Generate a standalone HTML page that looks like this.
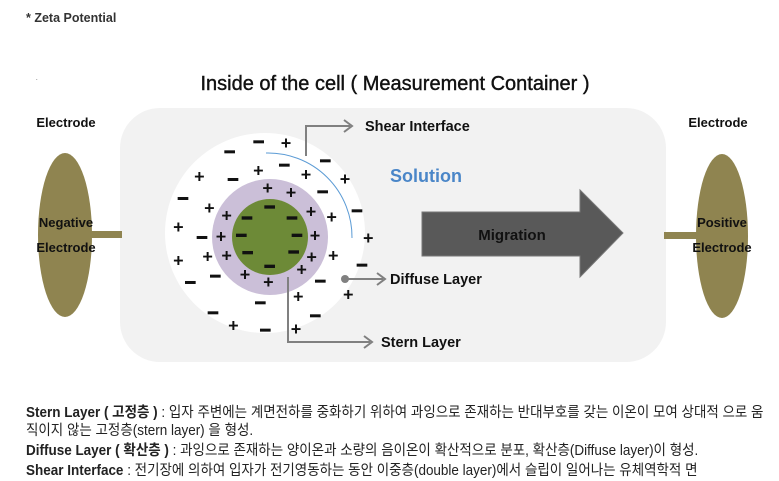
<!DOCTYPE html>
<html><head><meta charset="utf-8"><style>
body{margin:0;background:#fff;width:779px;height:481px;overflow:hidden;position:relative;font-family:"Liberation Sans","Noto Sans CJK KR",sans-serif}
.t{position:absolute;white-space:nowrap}
.k{font-size:14.5px;color:#222;transform:scaleX(0.93);transform-origin:left}
</style></head><body>
<svg width="779" height="481" style="position:absolute;left:0;top:0" font-family="Liberation Sans, sans-serif">
<text x="26" y="22" font-size="12.5" font-weight="bold" fill="#333">* Zeta Potential</text>
<text x="36" y="80" font-size="6" fill="#333">.</text>
<text x="395" y="90" font-size="20" text-anchor="middle" fill="#111" stroke="#111" stroke-width="0.4">Inside of the cell ( Measurement Container )</text>
<rect x="120" y="108" width="546" height="254" rx="40" fill="#f2f2f2"/>
<rect x="90" y="231" width="32" height="7" fill="#8f8450"/>
<ellipse cx="65" cy="235" rx="27" ry="82" fill="#8f8450"/>
<rect x="664" y="232" width="34" height="7" fill="#8f8450"/>
<ellipse cx="722" cy="236" rx="26" ry="82" fill="#8f8450"/>
<g font-size="13" font-weight="bold" fill="#111" text-anchor="middle">
<text x="66" y="127">Electrode</text>
<text x="718" y="127">Electrode</text>
<text x="66" y="227">Negative</text>
<text x="66" y="252">Electrode</text>
<text x="722" y="227">Positive</text>
<text x="722" y="252">Electrode</text>
</g>
<polygon points="422,212 580,212 580,190 623,233 580,277 580,256 422,256" fill="#595959" stroke="#777" stroke-width="1"/>
<text x="512" y="240" font-size="15" font-weight="bold" fill="#111" text-anchor="middle">Migration</text>
<text x="390" y="182" font-size="18" font-weight="bold" fill="#4a86c8">Solution</text>
<circle cx="265" cy="233" r="100" fill="#fff"/>
<circle cx="270" cy="237" r="58" fill="#cbbfd8"/>
<circle cx="270" cy="237" r="38" fill="#6d8a37"/>
<path d="M266,153 A84,84 0 0 1 352,238" fill="none" stroke="#5b9bd5" stroke-width="1"/>
<g transform="translate(160,120) scale(0.3333)" font-size="54" font-weight="bold" fill="#111" text-anchor="middle">
<g fill="#111">
<rect x="280" y="61" width="32" height="9"/><rect x="193" y="91" width="32" height="9"/><rect x="357" y="131" width="32" height="9"/><rect x="480" y="118" width="32" height="9"/><rect x="203" y="174" width="32" height="9"/><rect x="53" y="231" width="32" height="9"/><rect x="575" y="268" width="32" height="9"/><rect x="110" y="348" width="32" height="9"/><rect x="590" y="431" width="32" height="9"/><rect x="75" y="483" width="32" height="9"/><rect x="150" y="464" width="32" height="9"/><rect x="465" y="479" width="32" height="9"/><rect x="285" y="544" width="32" height="9"/><rect x="143" y="574" width="32" height="9"/><rect x="450" y="583" width="32" height="9"/><rect x="300" y="626" width="32" height="9"/><rect x="472" y="211" width="32" height="9"/>
<rect x="313" y="256" width="32" height="10"/><rect x="245" y="289" width="32" height="10"/><rect x="380" y="289" width="32" height="10"/><rect x="228" y="341" width="32" height="10"/><rect x="395" y="341" width="32" height="10"/><rect x="247" y="393" width="32" height="10"/><rect x="385" y="391" width="32" height="10"/><rect x="313" y="434" width="32" height="10"/>
</g>
<g>
<text x="378" y="87">+</text><text x="118" y="187">+</text><text x="295" y="169">+</text><text x="438" y="182">+</text><text x="555" y="195">+</text><text x="323" y="222">+</text><text x="393" y="235">+</text><text x="148" y="282">+</text><text x="200" y="305">+</text><text x="453" y="292">+</text><text x="515" y="309">+</text><text x="55" y="339">+</text><text x="183" y="367">+</text><text x="465" y="365">+</text><text x="625" y="372">+</text><text x="55" y="439">+</text><text x="143" y="427">+</text><text x="200" y="425">+</text><text x="455" y="429">+</text><text x="520" y="425">+</text><text x="425" y="467">+</text><text x="255" y="482">+</text><text x="325" y="504">+</text><text x="415" y="547">+</text><text x="565" y="542">+</text><text x="220" y="634">+</text><text x="408" y="645">+</text>
</g>
</g>
<g stroke="#808080" stroke-width="2" fill="none">
<polyline points="306,156 306,126 350,126"/><polyline points="344,120 352,126 344,132"/>
<line x1="345" y1="279" x2="383" y2="279"/><polyline points="377,273 385,279 377,285"/>
<polyline points="288,277 288,342 370,342"/><polyline points="364,336 372,342 364,348"/>
</g>
<circle cx="345" cy="279" r="4" fill="#808080"/>
<g font-size="14.5" font-weight="bold" fill="#111">
<text x="365" y="131">Shear Interface</text>
<text x="390" y="284">Diffuse Layer</text>
<text x="381" y="347">Stern Layer</text>
</g>
</svg>
<div class="t k" style="left:26px;top:401px"><b>Stern Layer ( 고정층 )</b> : 입자 주변에는 계면전하를 중화하기 위하여 과잉으로 존재하는 반대부호를 갖는 이온이 모여 상대적 으로 움</div>
<div class="t k" style="left:26px;top:419px">직이지 않는 고정층(stern layer) 을 형성.</div>
<div class="t k" style="left:26px;top:439px"><b>Diffuse Layer ( 확산층 )</b> : 과잉으로 존재하는 양이온과 소량의 음이온이 확산적으로 분포, 확산층(Diffuse layer)이 형성.</div>
<div class="t k" style="left:26px;top:459px"><b>Shear Interface</b> : 전기장에 의하여 입자가 전기영동하는 동안 이중층(double layer)에서 슬립이 일어나는 유체역학적 면</div>
</body></html>
